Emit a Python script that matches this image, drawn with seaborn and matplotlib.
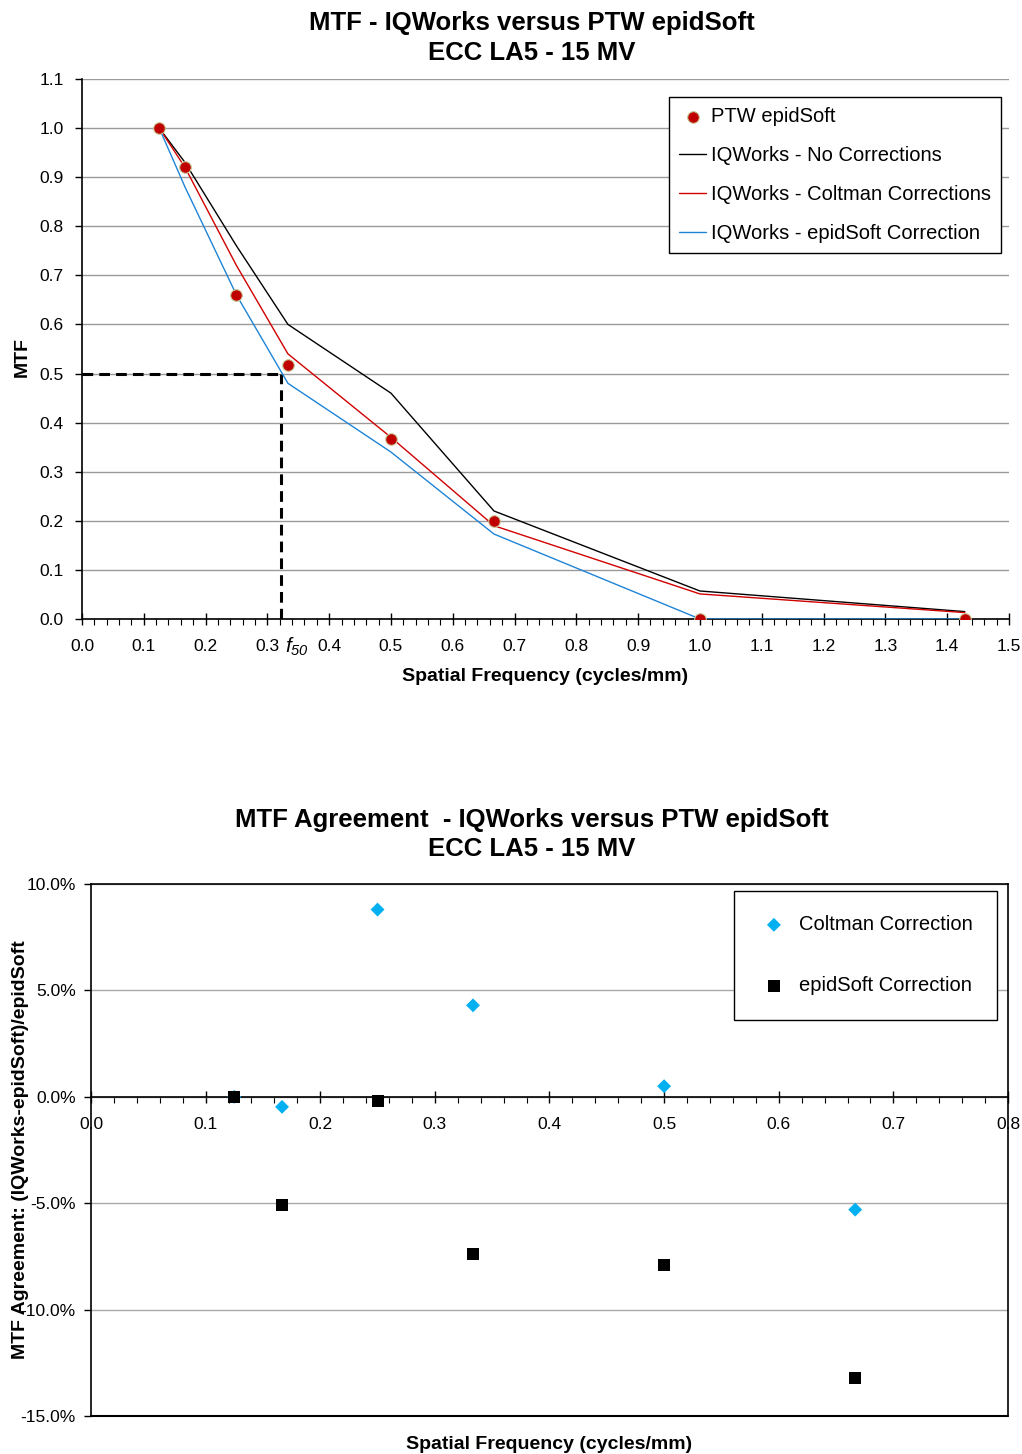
import numpy as np
import pandas as pd
import matplotlib
matplotlib.use("Agg")
import matplotlib.pyplot as plt
from matplotlib.ticker import MultipleLocator, FuncFormatter
import seaborn as sns

# ---------------- data ----------------
freq = [0.125, 0.1667, 0.25, 0.3333, 0.5, 0.6667, 1.0, 1.4286]
ptw_epidsoft = [1.0, 0.92, 0.66, 0.517, 0.367, 0.20, 0.0, 0.0]
iq_no_corr = [1.0, 0.93, 0.76, 0.60, 0.46, 0.22, 0.057, 0.015]
iq_coltman = [1.0, 0.92, 0.72, 0.54, 0.37, 0.19, 0.051, 0.013]
iq_epidsoft = [1.0, 0.88, 0.66, 0.48, 0.34, 0.173, 0.0, 0.0]
f50 = 0.322
mtf_level = 0.5

freq2 = [0.125, 0.1667, 0.25, 0.3333, 0.5, 0.6667]
agree_coltman = [0.0, -0.47, 8.8, 4.3, 0.5, -5.3]
agree_epidsoft = [0.0, -5.1, -0.2, -7.4, -7.9, -13.2]

title1 = "MTF - IQWorks versus PTW epidSoft\nECC LA5 - 15 MV"
title2 = "MTF Agreement  - IQWorks versus PTW epidSoft\nECC LA5 - 15 MV"
xlabel = "Spatial Frequency (cycles/mm)"

# ---------------- style ----------------
sns.set_theme(style="white")
plt.rcParams["font.family"] = ["Liberation Sans", "DejaVu Sans"]
plt.rcParams["text.color"] = "black"
plt.rcParams["axes.labelcolor"] = "black"
plt.rcParams["xtick.color"] = "black"
plt.rcParams["ytick.color"] = "black"
plt.rcParams["mathtext.fontset"] = "custom"
plt.rcParams["mathtext.it"] = "Liberation Sans:italic"
plt.rcParams["mathtext.rm"] = "Liberation Sans:italic"

fig = plt.figure(figsize=(10.22, 14.54), dpi=100)
ax1 = fig.add_axes([0.0802, 0.5743, 0.907, 0.3714])
ax2 = fig.add_axes([0.089, 0.0261, 0.8973, 0.3659])

# ---------------- top chart ----------------
df1 = pd.DataFrame({"freq": freq, "ptw": ptw_epidsoft, "none": iq_no_corr,
                    "colt": iq_coltman, "epid": iq_epidsoft})

ax1.hlines(mtf_level, 0, f50, colors="black", linestyles=(0, (3.5, 2)), lw=2.2, zorder=3)
ax1.vlines(f50, 0, mtf_level, colors="black", linestyles=(0, (3.5, 2)), lw=2.2, zorder=3)

sns.lineplot(data=df1, x="freq", y="none", ax=ax1, color="black", lw=1,
             label="IQWorks - No Corrections", zorder=4)
sns.lineplot(data=df1, x="freq", y="colt", ax=ax1, color="#D00000", lw=1,
             label="IQWorks - Coltman Corrections", zorder=4)
sns.lineplot(data=df1, x="freq", y="epid", ax=ax1, color="#1F84D6", lw=1,
             label="IQWorks - epidSoft Correction", zorder=4)
sns.scatterplot(data=df1, x="freq", y="ptw", ax=ax1, color="#C00000",
                edgecolor="#C8C896", linewidth=0.8, s=70, zorder=6,
                label="PTW epidSoft")

ax1.set_xlim(0, 1.5)
ax1.set_ylim(0, 1.1)
ax1.xaxis.set_major_locator(MultipleLocator(0.1))
ax1.xaxis.set_minor_locator(MultipleLocator(0.02))
ax1.yaxis.set_major_locator(MultipleLocator(0.1))
ax1.xaxis.set_major_formatter(FuncFormatter(lambda v, p: f"{v:.1f}"))
ax1.yaxis.set_major_formatter(FuncFormatter(lambda v, p: f"{v:.1f}"))
ax1.yaxis.grid(True, color="#9a9a9a", lw=1)
ax1.xaxis.grid(False)
ax1.set_axisbelow(True)
for s in ["top", "right"]:
    ax1.spines[s].set_visible(False)
for s in ["left", "bottom"]:
    ax1.spines[s].set_color("black")
    ax1.spines[s].set_linewidth(1.2)
ax1.tick_params(axis="x", which="major", direction="inout", length=9, width=1,
                labelsize=12.5, pad=10, bottom=True, color="black")
ax1.tick_params(axis="x", which="minor", direction="out", length=4, width=0.8,
                bottom=True, color="black")
ax1.tick_params(axis="y", which="major", direction="out", length=5, width=1,
                labelsize=12.5, pad=8, left=True, color="black")
ax1.text(0.348, -0.056, r"$f_{50}$", fontsize=15,
         ha="center", va="center", clip_on=False)

ax1.set_xlabel(xlabel, fontsize=14, fontweight="bold")
ax1.xaxis.set_label_coords(0.4995, -0.09)
ax1.set_ylabel("MTF", fontsize=14, fontweight="bold")
ax1.yaxis.set_label_coords(-0.055, 0.485)

h, l = ax1.get_legend_handles_labels()
order = [l.index("PTW epidSoft"), l.index("IQWorks - No Corrections"),
         l.index("IQWorks - Coltman Corrections"), l.index("IQWorks - epidSoft Correction")]
leg1 = ax1.legend([h[i] for i in order], [l[i] for i in order],
                  loc="upper right", bbox_to_anchor=(0.991, 0.967),
                  fontsize=14.5, frameon=True, fancybox=False, edgecolor="black",
                  framealpha=1, borderpad=0.5, labelspacing=1.0,
                  handlelength=1.35, handletextpad=0.2, borderaxespad=0)
leg1.get_frame().set_linewidth(1)

# ---------------- bottom chart ----------------
df2 = pd.DataFrame({"freq": freq2, "colt": agree_coltman, "epid": agree_epidsoft})
sns.scatterplot(data=df2, x="freq", y="colt", ax=ax2, marker="D", color="#00B0F0",
                edgecolor="none", s=50, zorder=5, label="Coltman Correction")
sns.scatterplot(data=df2, x="freq", y="epid", ax=ax2, marker="s", color="black",
                edgecolor="none", s=75, zorder=6, label="epidSoft Correction")

ax2.set_xlim(0, 0.8)
ax2.set_ylim(-15, 10)
ax2.xaxis.set_major_locator(MultipleLocator(0.1))
ax2.xaxis.set_minor_locator(MultipleLocator(0.02))
ax2.yaxis.set_major_locator(MultipleLocator(5))
ax2.xaxis.set_major_formatter(FuncFormatter(lambda v, p: f"{v:.1f}"))
ax2.yaxis.set_major_formatter(FuncFormatter(lambda v, p: f"{v:.1f}%"))
ax2.yaxis.grid(True, color="#a8a8a8", lw=1)
ax2.xaxis.grid(False)
ax2.set_axisbelow(True)
for s in ["top", "right", "left", "bottom"]:
    ax2.spines[s].set_color("black")
    ax2.spines[s].set_linewidth(1.2)
ax2.spines["bottom"].set_position(("data", 0))
ax2.axhline(-15, color="black", lw=1.5, clip_on=False, zorder=7)
ax2.tick_params(axis="x", which="major", direction="inout", length=9, width=1,
                labelsize=12.5, pad=10, bottom=True, color="black")
ax2.tick_params(axis="x", which="minor", direction="out", length=4, width=0.8,
                bottom=True, color="black")
ax2.tick_params(axis="y", which="major", direction="out", length=5, width=1,
                labelsize=12.5, pad=6, left=True, color="black")

ax2.set_xlabel(xlabel, fontsize=14, fontweight="bold")
ax2.xaxis.set_label_coords(0.5, -0.037)
ax2.set_ylabel("MTF Agreement: (IQWorks-epidSoft)/epidSoft", fontsize=14, fontweight="bold")
ax2.yaxis.set_label_coords(-0.0676, 0.5)

leg2 = ax2.legend(loc="upper right", bbox_to_anchor=(0.988, 0.987),
                  fontsize=14.5, frameon=True, fancybox=False, edgecolor="black",
                  framealpha=1, borderpad=1.2, labelspacing=2.1,
                  handlelength=1.6, handletextpad=0.45, borderaxespad=0)
leg2.get_frame().set_linewidth(1)

# ---------------- titles ----------------
fig.text(0.5205, 0.9740, title1, ha="center", va="center", fontsize=18.5,
         fontweight="bold", linespacing=1.3)
fig.text(0.5205, 0.4260, title2, ha="center", va="center", fontsize=18.5,
         fontweight="bold", linespacing=1.3)

fig.savefig("out.png", dpi=100)
